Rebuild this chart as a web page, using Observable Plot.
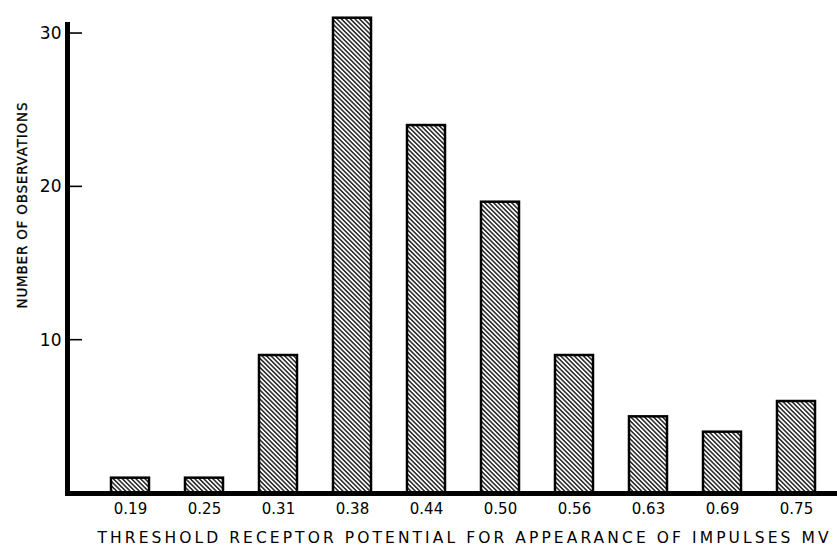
<!DOCTYPE html>
<html><head><meta charset="utf-8">
<script src="https://cdn.jsdelivr.net/npm/d3@7"></script>
<script src="https://cdn.jsdelivr.net/npm/@observablehq/plot@0.6"></script>
<style>body{margin:0;background:#fff}</style>
</head><body><div id="chart"></div>
<script>
const categories = ["0.19","0.25","0.31","0.38","0.44","0.50","0.56","0.63","0.69","0.75"];
const counts = [1, 1, 9, 31, 24, 19, 9, 5, 4, 6];
const yTicks = [10, 20, 30];
const xTitle = "THRESHOLD RECEPTOR POTENTIAL FOR APPEARANCE OF IMPULSES MV";
const yTitle = "NUMBER OF OBSERVATIONS";

const data = categories.map((c, i) => ({c, n: counts[i]}));

function axisLines(index, scales, values, dimensions) {
  const {y} = scales;
  const {width, marginLeft, marginTop} = dimensions;
  const g = d3.create("svg:g");
  const y0 = y(0);
  g.append("rect").attr("x", marginLeft - 3).attr("y", marginTop)
    .attr("width", 5).attr("height", y0 + 3 - marginTop).attr("fill", "black");
  g.append("rect").attr("x", marginLeft - 3).attr("y", y0 - 2)
    .attr("width", width - marginLeft + 3).attr("height", 5).attr("fill", "black");
  for (const t of yTicks) {
    g.append("line").attr("x1", marginLeft + 2).attr("x2", marginLeft + 14)
      .attr("y1", y(t)).attr("y2", y(t)).attr("stroke", "black").attr("stroke-width", 1.6);
  }
  return g.node();
}

const svg = Plot.plot({
  width: 837, height: 550,
  marginLeft: 68, marginRight: 0, marginTop: 22, marginBottom: 57,
  style: {fontFamily: "'DejaVu Sans', sans-serif", fontSize: "15px", color: "black", background: "white"},
  x: {domain: categories, range: [89, 837], paddingInner: 0.48, paddingOuter: 0.24, tickSize: 0, tickPadding: 10, label: null},
  y: {domain: [0, 30.72], ticks: yTicks, tickSize: 0, tickPadding: 7, label: null, tickFormat: d => String(d)},
  marks: [
    Plot.barY(data, {x: "c", y: "n", fill: "url(#hatch)", stroke: "black", strokeWidth: 2.5}),
    axisLines,
    Plot.text([xTitle], {frameAnchor: "bottom", textAnchor: "middle", lineAnchor: "middle", dx: 10, dy: 45, text: d => d, fontSize: 15.5}),
    Plot.text([yTitle], {frameAnchor: "left", textAnchor: "middle", lineAnchor: "middle", rotate: -90, dx: -45.5, dy: -52.5, text: d => d, fontSize: 13.5})
  ]
});

d3.select(svg).insert("defs", ":first-child").html(
  '<pattern id="hatch" width="3.2" height="3.2" patternUnits="userSpaceOnUse" patternTransform="rotate(-45)">' +
  '<rect width="3.2" height="3.2" fill="white"/>' +
  '<line x1="0.8" y1="0" x2="0.8" y2="3.2" stroke="black" stroke-width="1.3"/></pattern>'
);
d3.select(svg).selectAll("text").each(function() {
  const t = this.textContent;
  const s = d3.select(this);
  if (t === xTitle) s.attr("textLength", 731).attr("lengthAdjust", "spacing");
  if (t === yTitle) s.attr("textLength", 206).attr("lengthAdjust", "spacing").style("stroke", "black").style("stroke-width", "0.3px");
  if (yTicks.map(String).includes(t)) s.style("font-size", "17px").style("font-family", "'DejaVu Sans', sans-serif");
  if (categories.includes(t)) s.style("font-size", "15px").style("font-family", "'DejaVu Sans', sans-serif");
});
document.getElementById("chart").appendChild(svg);
</script>
</body></html>
